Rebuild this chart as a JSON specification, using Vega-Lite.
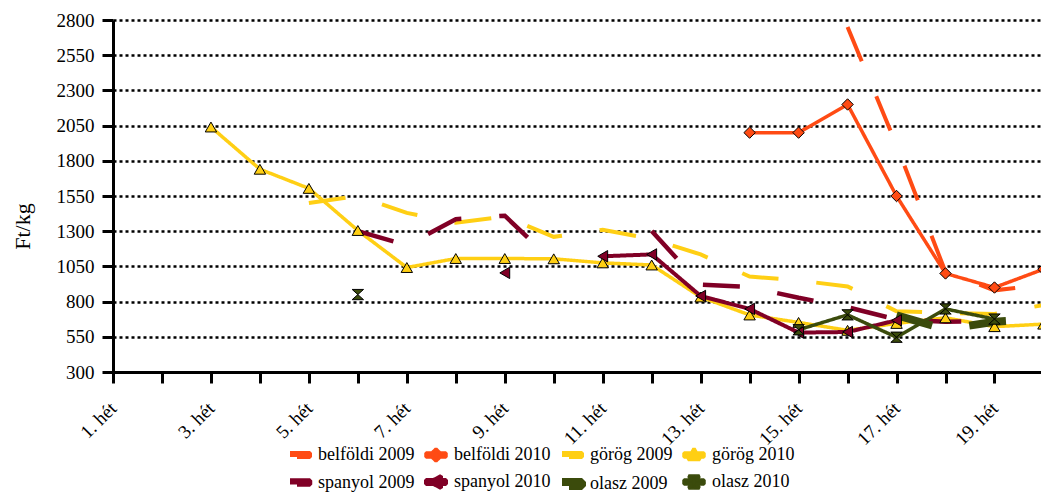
{
 "$schema": "https://vega.github.io/schema/vega-lite/v6.json",
 "width": 928,
 "height": 352,
 "autosize": {"type": "none"},
 "padding": {"left": 113, "top": 20, "right": 0, "bottom": 121},
 "background": "white",
 "config": {"view": {"stroke": null}, "font": "Liberation Serif"},
 "data": {"values": [
  {"week": 16, "series": "belföldi 2009", "value": 2750},
  {"week": 17, "series": "belföldi 2009", "value": 1910},
  {"week": 18, "series": "belföldi 2009", "value": 1010},
  {"week": 19, "series": "belföldi 2009", "value": 880},
  {"week": 20, "series": "belföldi 2009", "value": 920},
  {"week": 14, "series": "belföldi 2010", "value": 2000},
  {"week": 15, "series": "belföldi 2010", "value": 2000},
  {"week": 16, "series": "belföldi 2010", "value": 2200},
  {"week": 17, "series": "belföldi 2010", "value": 1550},
  {"week": 18, "series": "belföldi 2010", "value": 1000},
  {"week": 19, "series": "belföldi 2010", "value": 900},
  {"week": 20, "series": "belföldi 2010", "value": 1030},
  {"week": 5, "series": "görög 2009", "value": 1500},
  {"week": 6, "series": "görög 2009", "value": 1550},
  {"week": 7, "series": "görög 2009", "value": 1430},
  {"week": 8, "series": "görög 2009", "value": 1360},
  {"week": 9, "series": "görög 2009", "value": 1405},
  {"week": 10, "series": "görög 2009", "value": 1260},
  {"week": 11, "series": "görög 2009", "value": 1310},
  {"week": 12, "series": "görög 2009", "value": 1245},
  {"week": 13, "series": "görög 2009", "value": 1135},
  {"week": 14, "series": "görög 2009", "value": 978},
  {"week": 15, "series": "görög 2009", "value": 950},
  {"week": 16, "series": "görög 2009", "value": 908},
  {"week": 17, "series": "görög 2009", "value": 731},
  {"week": 18, "series": "görög 2009", "value": 720},
  {"week": 19, "series": "görög 2009", "value": 712},
  {"week": 20, "series": "görög 2009", "value": 776},
  {"week": 3, "series": "görög 2010", "value": 2040},
  {"week": 4, "series": "görög 2010", "value": 1740},
  {"week": 5, "series": "görög 2010", "value": 1604},
  {"week": 6, "series": "görög 2010", "value": 1305},
  {"week": 7, "series": "görög 2010", "value": 1042},
  {"week": 8, "series": "görög 2010", "value": 1106},
  {"week": 9, "series": "görög 2010", "value": 1106},
  {"week": 10, "series": "görög 2010", "value": 1104},
  {"week": 11, "series": "görög 2010", "value": 1075},
  {"week": 12, "series": "görög 2010", "value": 1060},
  {"week": 13, "series": "görög 2010", "value": 833},
  {"week": 14, "series": "görög 2010", "value": 705},
  {"week": 15, "series": "görög 2010", "value": 652},
  {"week": 16, "series": "görög 2010", "value": 596},
  {"week": 17, "series": "görög 2010", "value": 645},
  {"week": 18, "series": "görög 2010", "value": 685},
  {"week": 19, "series": "görög 2010", "value": 622},
  {"week": 20, "series": "görög 2010", "value": 640},
  {"week": 6, "series": "spanyol 2009", "value": 1300},
  {"week": 7, "series": "spanyol 2009", "value": 1200},
  {"week": 8, "series": "spanyol 2009", "value": 1385},
  {"week": 9, "series": "spanyol 2009", "value": 1410},
  {"week": 10, "series": "spanyol 2009", "value": 1080},
  {"week": 11, "series": "spanyol 2009", "value": null},
  {"week": 12, "series": "spanyol 2009", "value": 1302},
  {"week": 13, "series": "spanyol 2009", "value": 920},
  {"week": 14, "series": "spanyol 2009", "value": 903},
  {"week": 15, "series": "spanyol 2009", "value": 827},
  {"week": 16, "series": "spanyol 2009", "value": 760},
  {"week": 17, "series": "spanyol 2009", "value": 673},
  {"week": 18, "series": "spanyol 2009", "value": 657},
  {"week": 19, "series": "spanyol 2009", "value": 660},
  {"week": 9, "series": "spanyol 2010", "value": 1004},
  {"week": 10, "series": "spanyol 2010", "value": null},
  {"week": 11, "series": "spanyol 2010", "value": 1122},
  {"week": 12, "series": "spanyol 2010", "value": 1135},
  {"week": 13, "series": "spanyol 2010", "value": 840},
  {"week": 14, "series": "spanyol 2010", "value": 748},
  {"week": 15, "series": "spanyol 2010", "value": 580},
  {"week": 16, "series": "spanyol 2010", "value": 584},
  {"week": 17, "series": "spanyol 2010", "value": 667},
  {"week": 17, "series": "olasz 2009", "value": 703},
  {"week": 18, "series": "olasz 2009", "value": 603},
  {"week": 19, "series": "olasz 2009", "value": 657},
  {"week": 20, "series": "olasz 2009", "value": 680},
  {"week": 6, "series": "olasz 2010", "value": 850},
  {"week": 7, "series": "olasz 2010", "value": null},
  {"week": 15, "series": "olasz 2010", "value": 600},
  {"week": 16, "series": "olasz 2010", "value": 706},
  {"week": 17, "series": "olasz 2010", "value": 547},
  {"week": 18, "series": "olasz 2010", "value": 748},
  {"week": 19, "series": "olasz 2010", "value": 676}
 ]},
 "encoding": {
  "x": {
   "field": "week", "type": "quantitative",
   "scale": {"domain": [1, 19.95], "nice": false, "zero": false},
   "axis": {
    "values": [1,2,3,4,5,6,7,8,9,10,11,12,13,14,15,16,17,18,19],
    "labelExpr": "datum.value % 2 == 1 ? datum.value + '. hét' : ''",
    "labelAngle": -45, "labelAlign": "right", "labelBaseline": "middle",
    "labelFont": "Liberation Serif", "labelFontSize": 19, "labelColor": "black",
    "labelPadding": 22, "labelOverlap": false, "labelFlush": false,
    "tickSize": 11, "tickWidth": 3, "tickColor": "black",
    "domainColor": "black", "domainWidth": 3,
    "grid": false, "title": null
   }
  },
  "y": {
   "field": "value", "type": "quantitative",
   "scale": {"domain": [300, 2800], "nice": false, "zero": false},
   "axis": {
    "values": [300,550,800,1050,1300,1550,1800,2050,2300,2550,2800],
    "format": "d",
    "grid": true, "gridColor": "black", "gridDash": [3,3], "gridWidth": 2.5, "gridOpacity": 1,
    "tickSize": 11, "tickWidth": 3, "tickColor": "black",
    "domainColor": "black", "domainWidth": 3,
    "labelFont": "Liberation Serif", "labelFontSize": 19, "labelColor": "black", "labelPadding": 8,
    "labelFlush": false, "labelOverlap": false,
    "title": "Ft/kg", "titleFont": "Liberation Serif", "titleFontSize": 22, "titleFontWeight": "normal",
    "titleColor": "black", "titleAngle": 270, "titleX": -91, "titleY": 206,
    "titleAlign": "center", "titleBaseline": "middle"
   }
  }
 },
 "layer": [
  {
   "mark": {"type": "line", "clip": true, "invalid": "break-paths-show-domains"},
   "encoding": {
    "color": {
     "field": "series", "type": "nominal",
     "scale": {
      "domain": ["belföldi 2009","belföldi 2010","görög 2009","görög 2010","spanyol 2009","spanyol 2010","olasz 2009","olasz 2010"],
      "range": ["#ff4b14","#ff4b14","#ffcf14","#ffcf14","#800026","#800026","#3b4b0c","#3b4b0c"]
     },
     "legend": {
      "orient": "none", "legendX": 173, "legendY": 423,
      "direction": "horizontal", "columns": 4, "title": null, "padding": 0,
      "labelFont": "Liberation Serif", "labelFontSize": 18, "labelColor": "black",
      "symbolSize": 400, "labelOffset": 4, "columnPadding": 7, "rowPadding": 6,
      "encode": {
       "symbols": {
        "update": {
         "shape": {"signal": "datum.value == 'belföldi 2010' ? 'M-1,-0.2H-0.4L0,-0.6L0.4,-0.2H1V0.2H0.4L0,0.6L-0.4,0.2H-1Z' : datum.value == 'görög 2010' ? 'M-1,-0.2H-0.245L0,-0.65L0.245,-0.2H1V0.2H0.464L0.6,0.45H-0.6L-0.464,0.2H-1Z' : datum.value == 'spanyol 2010' ? 'M-1,-0.2H-0.233L0.5,-0.6V-0.2H1V0.2H0.5V0.6L-0.233,0.2H-1Z' : datum.value == 'olasz 2010' ? 'M-1,-0.2H-0.183L-0.55,-0.6H0.55L0.183,-0.2H1V0.2H0.183L0.55,0.6H-0.55L-0.183,0.2H-1Z' : 'M-1,-0.2H1V0.2H-1Z'"},
         "fill": {"scale": "color", "field": "value"},
         "fillOpacity": {"value": 1},
         "opacity": {"value": 1},
         "stroke": {"signal": "indexof(datum.value, '2010') >= 0 ? 'black' : null"},
         "strokeWidth": {"signal": "indexof(datum.value, '2010') >= 0 ? 0.8 : 0"},
         "strokeJoin": {"value": "bevel"},
         "strokeDash": {"value": []}
        }
       }
      }
     }
    },
    "strokeDash": {
     "field": "series", "type": "nominal", "legend": null,
     "scale": {
      "domain": ["belföldi 2009","belföldi 2010","görög 2009","görög 2010","spanyol 2009","spanyol 2010","olasz 2009","olasz 2010"],
      "range": [[37,38],[1,0],[37,38],[1,0],[37,38],[1,0],[37,38],[1,0]]
     }
    },
    "strokeWidth": {
     "field": "series", "type": "nominal", "legend": null,
     "scale": {
      "type": "ordinal",
      "domain": ["belföldi 2009","belföldi 2010","görög 2009","görög 2010","spanyol 2009","spanyol 2010","olasz 2009","olasz 2010"],
      "range": [4, 3.5, 4, 3.5, 4.5, 4, 8, 3.5]
     }
    }
   }
  },
  {
   "transform": [{"filter": "indexof(datum.series, '2010') >= 0 && isValid(datum.value)"}],
   "mark": {"type": "point", "filled": true, "clip": true, "stroke": "black", "strokeWidth": 1, "size": 130, "opacity": 1},
   "encoding": {
    "color": {
     "field": "series", "type": "nominal", "legend": null,
     "scale": {
      "domain": ["belföldi 2009","belföldi 2010","görög 2009","görög 2010","spanyol 2009","spanyol 2010","olasz 2009","olasz 2010"],
      "range": ["#ff4b14","#ff4b14","#ffcf14","#ffcf14","#800026","#800026","#3b4b0c","#3b4b0c"]
     }
    },
    "shape": {
     "field": "series", "type": "nominal", "legend": null,
     "scale": {
      "domain": ["belföldi 2010","görög 2010","spanyol 2010","olasz 2010"],
      "range": ["diamond","triangle-up","triangle-left","M-1,-0.9H1L-1,0.9H1Z"]
     }
    }
   }
  }
 ]
}
